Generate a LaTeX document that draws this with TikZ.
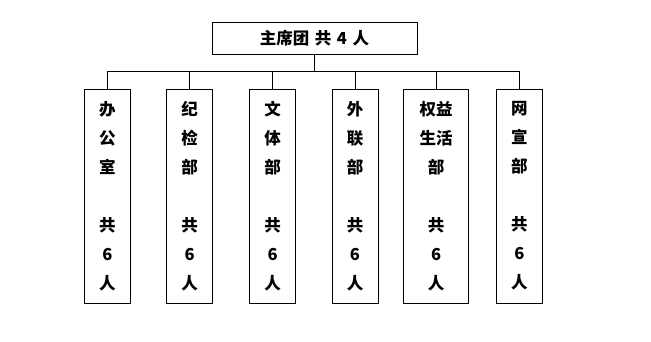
\documentclass[tikz,border=0pt]{standalone}
\usepackage{fontspec}
\newfontfamily\cjk{Noto Sans CJK SC}
\begin{document}
\begin{tikzpicture}[x=1pt,y=-1pt,
  line width=0.8pt,
  headbox/.style={draw,minimum width=205pt,minimum height=32pt,inner sep=0pt,
    font=\cjk\bfseries\fontsize{16.5}{16.5}\selectfont},
  deptbox/.style={draw,minimum height=214pt,inner sep=0pt,align=center,
    font=\cjk\bfseries\fontsize{16.5}{29}\selectfont},
  narrow/.style={deptbox,minimum width=46pt},
  wide/.style={deptbox,minimum width=65pt}]
\useasboundingbox (0,0) rectangle (651,341);
\node[headbox] (top) at (314.5,38) {主席团\,\,共\,\,4\,\,人};
\coordinate (busL) at (107.3,71);
\coordinate (busR) at (519.3,71);
\node[narrow] (b1) at (107.3,196) {办\\公\\室\\\mbox{}\\共\\6\\人};
\node[narrow] (b2) at (189.7,196) {纪\\检\\部\\\mbox{}\\共\\6\\人};
\node[narrow] (b3) at (272.6,196) {文\\体\\部\\\mbox{}\\共\\6\\人};
\node[narrow] (b4) at (355.0,196) {外\\联\\部\\\mbox{}\\共\\6\\人};
\node[wide]   (b5) at (436.2,196) {权益\\生活\\部\\\mbox{}\\共\\6\\人};
\node[narrow] (b6) at (519.3,196) {网\\宣\\部\\\mbox{}\\共\\6\\人};
\draw (top.south) -- (top.south |- busL);
\draw (busL) -- (busR);
\foreach \b in {b1,b2,b3,b4,b5,b6}
  \draw (\b.north |- busL) -- (\b.north);
\end{tikzpicture}
\end{document}
